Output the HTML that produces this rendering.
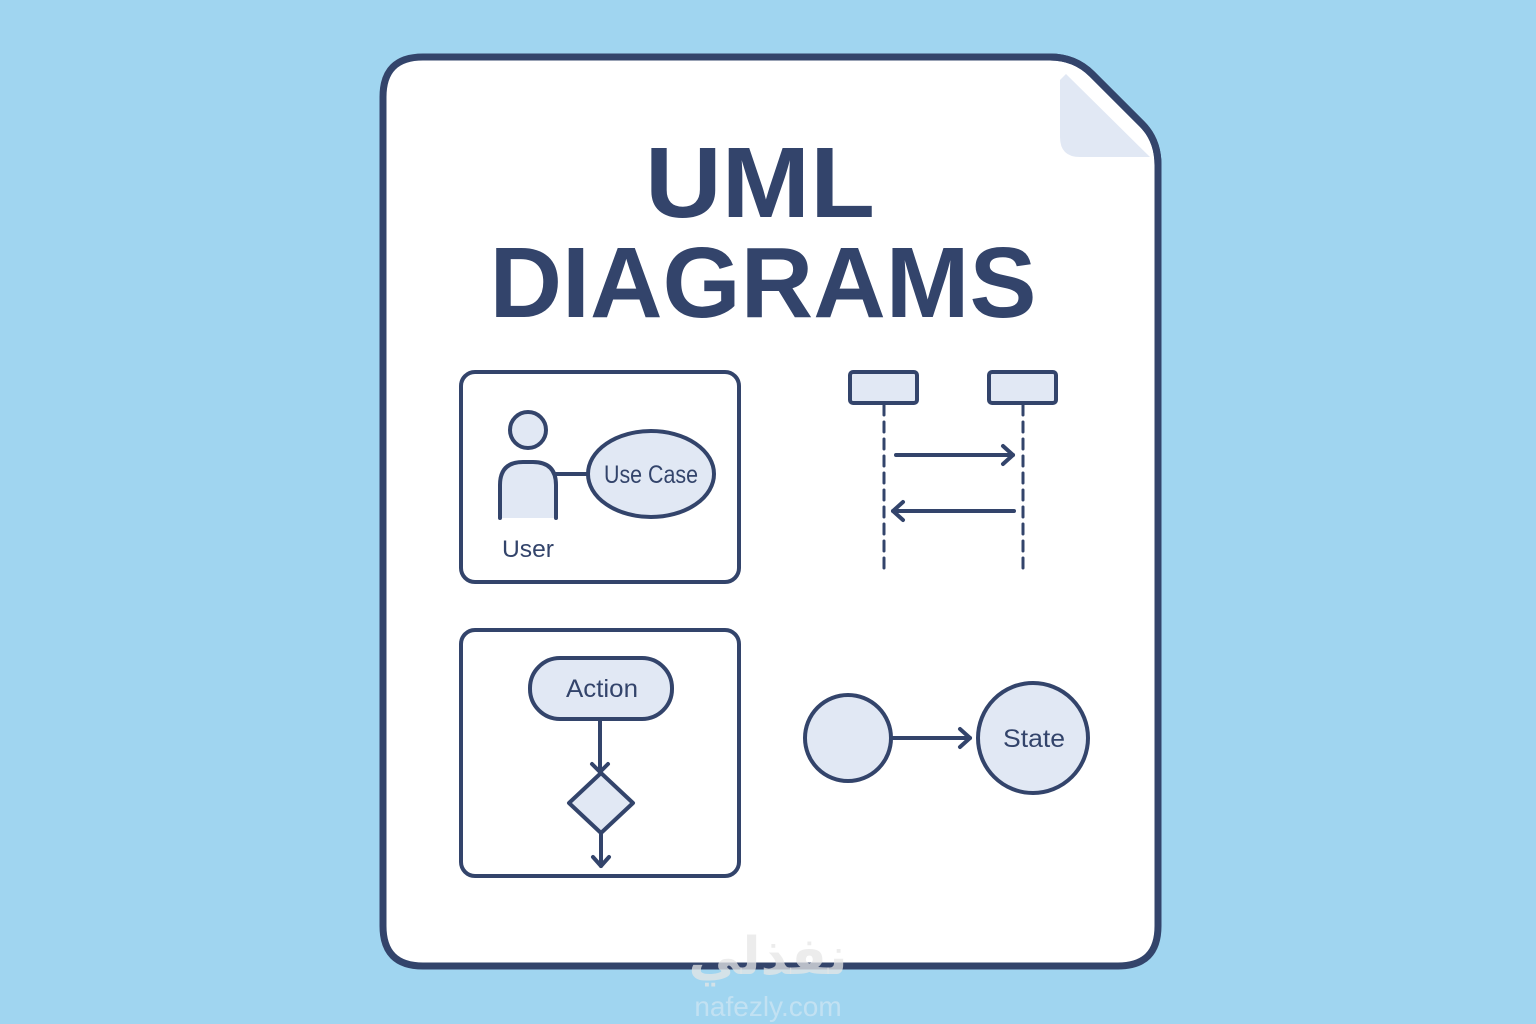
<!DOCTYPE html>
<html><head><meta charset="utf-8"><style>
html,body{margin:0;padding:0;background:#a0d5f0;}
svg{display:block}
text{font-family:"Liberation Sans","DejaVu Sans",sans-serif;fill:#33446b}
</style></head><body>
<svg width="1536" height="1024" viewBox="0 0 1536 1024">
<rect width="1536" height="1024" fill="#a0d5f0"/>
<path d="M423 57 H1050 Q1075 57 1092 74 L1142 124 Q1158 140 1158 165 V926 Q1158 966 1118 966 H423 Q383 966 383 926 V97 Q383 57 423 57 Z" fill="#fff" stroke="#33446b" stroke-width="7"/>
<path d="M1060 80 V137 Q1060 157 1080 157 H1150 L1066 74 Z" fill="#e1e8f4"/>
<path d="M1050 57 Q1075 57 1092 74 L1142 124 Q1158 140 1158 165" fill="none" stroke="#33446b" stroke-width="7"/>
<text x="760" y="217" font-size="100" font-weight="bold" text-anchor="middle" textLength="230" lengthAdjust="spacingAndGlyphs">UML</text>
<text x="763" y="317" font-size="100" font-weight="bold" text-anchor="middle" textLength="547" lengthAdjust="spacingAndGlyphs">DIAGRAMS</text>
<g fill="none" stroke="#33446b" stroke-width="4" stroke-linecap="round" stroke-linejoin="round">
<rect x="461" y="372" width="278" height="210" rx="14"/>
<circle cx="528" cy="430" r="18" fill="#e1e8f4"/>
<path d="M500 518 V485 Q500 462 523 462 H533 Q556 462 556 485 V518" fill="#e1e8f4"/>
<line x1="556" y1="474" x2="588" y2="474"/>
<ellipse cx="651" cy="474" rx="63" ry="43" fill="#e1e8f4"/>
<rect x="850" y="372" width="67" height="31" rx="3" fill="#e1e8f4"/>
<rect x="989" y="372" width="67" height="31" rx="3" fill="#e1e8f4"/>
<line x1="884" y1="405" x2="884" y2="570" stroke-width="3" stroke-dasharray="10 7"/>
<line x1="1023" y1="405" x2="1023" y2="570" stroke-width="3" stroke-dasharray="10 7"/>
<line x1="896" y1="455" x2="1013" y2="455"/><path d="M1003 446 L1013 455 L1003 464"/>
<line x1="893" y1="511" x2="1014" y2="511"/><path d="M903 502 L893 511 L903 520"/>
<rect x="461" y="630" width="278" height="246" rx="14"/>
<rect x="530" y="658" width="142" height="61" rx="30" fill="#e1e8f4"/>
<line x1="600" y1="719" x2="600" y2="772"/><path d="M592 764 L600 772 L608 764"/>
<path d="M601 773 L633 803 L601 833 L569 803 Z" fill="#e1e8f4"/>
<line x1="601" y1="833" x2="601" y2="866"/><path d="M593 857 L601 866 L609 857"/>
<circle cx="848" cy="738" r="43" fill="#e1e8f4"/>
<line x1="891" y1="738" x2="970" y2="738"/><path d="M960 729 L970 738 L960 747"/>
<circle cx="1033" cy="738" r="55" fill="#e1e8f4"/>
</g>
<text x="651" y="483" font-size="25" text-anchor="middle" textLength="94" lengthAdjust="spacingAndGlyphs">Use Case</text>
<text x="528" y="557" font-size="24" text-anchor="middle" textLength="52" lengthAdjust="spacingAndGlyphs">User</text>
<text x="602" y="697" font-size="25" text-anchor="middle" textLength="72" lengthAdjust="spacingAndGlyphs">Action</text>
<text x="1034" y="747" font-size="25" text-anchor="middle" textLength="62" lengthAdjust="spacingAndGlyphs">State</text>
<text x="768" y="974" font-size="52" font-weight="bold" text-anchor="middle" style="fill:rgba(230,230,230,0.75);font-family:'DejaVu Sans',sans-serif">نفذلي</text>
<text x="768" y="1016" font-size="28" text-anchor="middle" style="fill:rgba(235,240,245,0.45)">nafezly.com</text>
</svg>
</body></html>
